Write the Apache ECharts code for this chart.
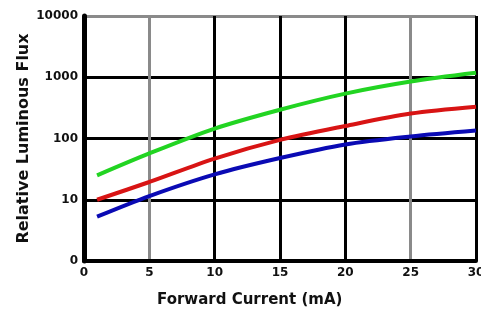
<!DOCTYPE html>
<html>
<head>
<meta charset="utf-8">
<script src="https://cdn.jsdelivr.net/npm/echarts@6/dist/echarts.min.js"></script>
<style>
  html, body { margin: 0; padding: 0; background: #fff; }
  #chart { width: 481px; height: 314px; }
</style>
</head>
<body>
<div id="chart"></div>
<script>
// forward current (mA)
const current = [1, 5, 10, 15, 20, 25, 30]
// relative luminous flux
const green = [25, 57, 145, 295, 540, 850, 1180]
const red = [10, 19.5, 47, 95, 160, 255, 330]
const blue = [5.3, 11.5, 26, 48, 80, 108, 135]
const xTicks = ['0', '5', '10', '15', '20', '25', '30']
const yTicks = ['0', '10', '100', '1000', '10000']

const font = 'DejaVu Sans'

function pairs(ys) {
  return current.map((x, i) => [x, ys[i]])
}

const myChart = echarts.init(document.getElementById('chart'))
myChart.setOption({
  animation: false,
  grid: { left: 84, right: 5, top: 16, bottom: 53, outerBoundsMode: 'none', containLabel: false },
  xAxis: {
    type: 'value',
    min: 0,
    max: 30,
    interval: 5,
    axisLine: { lineStyle: { color: '#000', width: 4 } },
    axisTick: { show: false },
    axisLabel: {
      margin: 6,
      color: '#111',
      fontFamily: font,
      fontWeight: 'bold',
      fontSize: 12,
      formatter: (v) => xTicks[v / 5]
    },
    splitLine: {
      lineStyle: {
        width: 3,
        color: ['#000', '#8a8a8a', '#000', '#000', '#000', '#8a8a8a', '#000']
      }
    }
  },
  yAxis: {
    type: 'log',
    logBase: 10,
    min: 1,
    max: 10000,
    name: 'Relative Luminous Flux',
    nameLocation: 'middle',
    nameGap: 52,
    nameMoveOverlap: false,
    nameTextStyle: { color: '#111', fontFamily: font, fontWeight: 'bold', fontSize: 16 },
    axisLine: { show: true, lineStyle: { color: '#000', width: 5 } },
    axisTick: { show: false },
    axisLabel: {
      margin: 6,
      color: '#111',
      fontFamily: font,
      fontWeight: 'bold',
      fontSize: 12,
      formatter: (v) => yTicks[Math.round(Math.log10(v))]
    },
    splitLine: {
      lineStyle: {
        width: 3,
        color: ['#000', '#000', '#000', '#000', '#8a8a8a']
      }
    }
  },
  graphic: [{
    type: 'text',
    left: 157,
    top: 293,
    style: {
      text: 'Forward Current (mA)',
      fill: '#111',
      font: 'bold 15px "DejaVu Sans"'
    }
  }],
  series: [{
    name: 'green',
    type: 'line',
    data: pairs(green),
    smooth: 0.3,
    showSymbol: false,
    lineStyle: { color: '#22d422', width: 4 }
  }, {
    name: 'red',
    type: 'line',
    data: pairs(red),
    smooth: 0.3,
    showSymbol: false,
    lineStyle: { color: '#d81414', width: 4 }
  }, {
    name: 'blue',
    type: 'line',
    data: pairs(blue),
    smooth: 0.3,
    showSymbol: false,
    lineStyle: { color: '#0a0ab4', width: 4 }
  }]
})
</script>
</body>
</html>
